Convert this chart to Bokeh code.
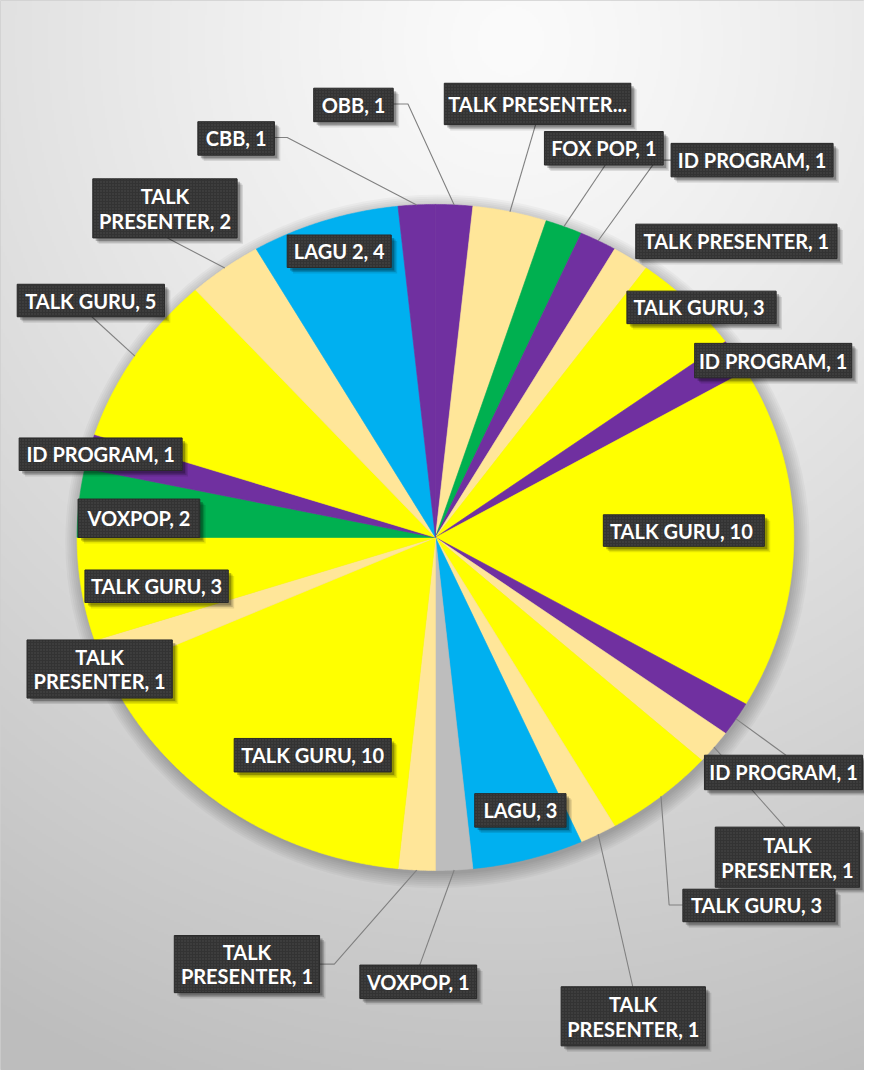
import numpy as np
from bokeh.plotting import figure
from bokeh.models import ColumnDataSource, Range1d
from bokeh.core.properties import value
from bokeh.embed import file_html
from bokeh.resources import INLINE

# ---------------- data (clockwise from 12 o'clock) ----------------
categories = ["OBB", "TALK PRESENTER", "FOX POP", "ID PROGRAM", "TALK PRESENTER", "TALK  GURU",
              "ID PROGRAM", "TALK  GURU", "ID PROGRAM", "TALK PRESENTER", "TALK  GURU", "TALK PRESENTER",
              "LAGU", "VOXPOP", "TALK PRESENTER", "TALK GURU", "TALK PRESENTER", "TALK GURU",
              "VOXPOP", "ID PROGRAM", "TALK GURU", "TALK PRESENTER", "LAGU 2", "CBB"]
values = [1, 2, 1, 1, 1, 3, 1, 10, 1, 1, 3, 1, 3, 1, 1, 10, 1, 3, 2, 1, 5, 2, 4, 1]

# ---------------- styles ----------------
PURPLE, TAN, GREEN, YELLOW, BLUE, GRAY = "#7030A0", "#FFE699", "#00B050", "#FFFF00", "#00B0F0", "#BDBDBD"
slice_colors = [PURPLE, TAN, GREEN, PURPLE, TAN, YELLOW, PURPLE, YELLOW, PURPLE, TAN, YELLOW, TAN,
                BLUE, GRAY, TAN, YELLOW, TAN, YELLOW, GREEN, PURPLE, YELLOW, TAN, BLUE, PURPLE]

# label texts built from the data
label_texts = [f"{c}, {v}" for c, v in zip(categories, values)]
label_texts[1] = "TALK PRESENTER..."
for i in (9, 11, 14, 16, 21):
    label_texts[i] = label_texts[i].replace("TALK ", "TALK\n", 1)

# label box placement (reference pixel coords: x0, x1, y0, y1) and leader attach points
boxes = [(319, 400, 89, 123), (452, 642, 84, 126), (554, 675, 133, 167), (683, 848, 145, 179),
         (647, 852, 227, 262), (638, 790, 295, 328), (707, 867, 348, 383), (614, 778, 522, 554),
         (717, 878, 766, 801), (728, 875, 839, 900), (695, 850, 902, 935), (571, 718, 1001, 1061),
         (483, 576, 805, 839), (366, 485, 979, 1013), (177, 325, 949, 1007), (238, 398, 749, 783),
         (27, 175, 649, 708), (86, 232, 578, 611), (79, 203, 506, 545), (19, 185, 444, 477),
         (17, 167, 288, 321), (94, 241, 181, 241), (292, 398, 238, 271), (201, 279, 123, 157)]
leaders = {0: [(400, 105), (415, 105)], 1: [(545, 126)], 2: [(616, 167)], 3: [(683, 162), (668, 162)],
           8: [(800, 766)], 9: [(799, 839)], 10: [(695, 918), (681, 918)], 11: [(644, 1001)],
           13: [(427, 979)], 14: [(325, 978), (340, 978)], 20: [(93, 321)], 21: [(170, 241)],
           23: [(279, 139), (292, 139)]}

W, H = 864, 1070
RW, RH = 880, 1086   # reference frame mapped onto the plot area


def Y(yref):
    return RH - yref


p = figure(width=W, height=H, output_backend="svg", toolbar_location=None,
           x_range=Range1d(0, RW), y_range=Range1d(0, RH), min_border=0)
p.axis.visible = False
p.grid.visible = False
p.outline_line_color = "#cfcfcf"
p.background_fill_color = "#d8d8d8"
p.border_fill_color = "white"

# background radial gradient
ny, nx = 543, 440
gx = np.linspace(0, RW, nx)
gy = np.linspace(RH, 0, ny)   # row 0 -> bottom of plot (ref y = RH)
GX, GY = np.meshgrid(gx, gy)
d = np.hypot(GX - 520, (GY - 40) * 0.95) / 1080.0
t = np.clip(d, 0, 1) ** 1.2
g = (251 - (251 - 189) * t).astype(np.uint32)
img = (np.uint32(255) << 24) | (g << 16) | (g << 8) | g
p.image_rgba(image=[img.astype(np.uint32)], x=0, y=0, dw=RW, dh=RH)

# pie geometry
cx, cy = 443.0, float(Y(545))
rx, ry = 365.0, 338.0

# soft shadow under pie
for k in range(8):
    p.ellipse(x=[cx + 2], y=[cy - 4], width=[2 * (rx + 14 - 2 * k)], height=[2 * (ry + 14 - 2 * k)],
              fill_color="black", fill_alpha=0.03, line_color=None)

vals = np.array(values, dtype=float)
total = vals.sum()
ends = np.cumsum(vals) / total * 2 * np.pi
starts = ends - vals / total * 2 * np.pi
pxs, pys = [], []
for a0, a1 in zip(starts, ends):
    th = np.linspace(a0, a1, max(10, int((a1 - a0) / 0.005)))
    pxs.append([cx] + list(cx + rx * np.sin(th)))
    pys.append([cy] + list(cy + ry * np.cos(th)))
p.patches(xs=pxs, ys=pys, fill_color=slice_colors, line_color=slice_colors, line_width=0.6)

# leader lines
mids = (starts + ends) / 2
lxs, lys = [], []
for i, pts in leaders.items():
    ax = cx + rx * np.sin(mids[i])
    ay = cy + ry * np.cos(mids[i])
    lxs.append([q[0] for q in pts] + [ax])
    lys.append([Y(q[1]) for q in pts] + [ay])
p.multi_line(xs=lxs, ys=lys, line_color="#808080", line_width=1.1)

# label boxes
bx = [(b[0] + b[1]) / 2 for b in boxes]
by = [Y((b[2] + b[3]) / 2) for b in boxes]
bw = [b[1] - b[0] for b in boxes]
bh = [b[3] - b[2] for b in boxes]
for off, a in ((6, 0.10), (4.5, 0.16), (3, 0.25)):
    p.rect(x=[v + off for v in bx], y=[v - off for v in by], width=bw, height=bh,
           fill_color="black", fill_alpha=a, line_color=None)
p.rect(x=bx, y=by, width=bw, height=bh, fill_color="#333333", line_color="#2a2a2a",
       hatch_pattern="dot", hatch_color="#4a4a4a", hatch_scale=3, hatch_weight=1)

# label texts
tx, ty, tt = [], [], []
for i, s in enumerate(label_texts):
    lines = s.split("\n")
    n = len(lines)
    for j, ln in enumerate(lines):
        tx.append(bx[i])
        ty.append(by[i] - (j - (n - 1) / 2) * 25)
        tt.append(ln)
src = ColumnDataSource(dict(x=tx, y=ty, text=tt))
p.text(x="x", y="y", text="text", source=src, text_color="white", text_font=value("Lato"),
       text_font_style="bold", text_font_size="20px", text_align="center", text_baseline="middle")

open("out.html", "w").write(file_html(p, INLINE))
